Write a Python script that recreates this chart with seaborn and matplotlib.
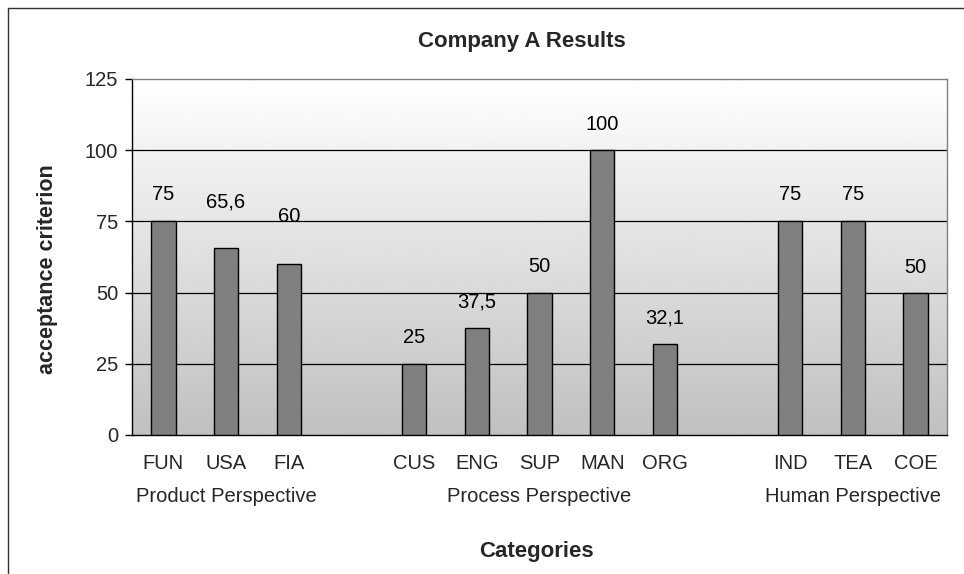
import numpy as np
import pandas as pd
import seaborn as sns
import matplotlib.pyplot as plt
from matplotlib.patches import Rectangle

# chart data
categories = ["FUN", "USA", "FIA", "CUS", "ENG", "SUP", "MAN", "ORG", "IND", "TEA", "COE"]
values = [75, 65.6, 60, 25, 37.5, 50, 100, 32.1, 75, 75, 50]
slot_order = ["FUN", "USA", "FIA", " ", "CUS", "ENG", "SUP", "MAN", "ORG", "  ", "IND", "TEA", "COE"]
groups = ["Product Perspective", "Process Perspective", "Human Perspective"]
group_slot = [1, 6, 11]
y_ticks = [0, 25, 50, 75, 100, 125]

# label lift above the bar top (pixels); two labels were moved up in the original
label_lift = [27, 46, 48, 26, 26, 26, 26, 26, 27, 27, 25]

sns.set_theme(style="white")
plt.rcParams['font.family'] = ['Liberation Sans', 'DejaVu Sans']

df = pd.DataFrame({"cat": categories, "val": values})

fig = plt.figure(figsize=(9.64, 5.74), dpi=100)
ax = fig.add_axes([132/964, 1 - 435/574, (947-132)/964, (435-79)/574])

# gradient background of plot area
grad = np.linspace(1.0, 0.753, 256).reshape(-1, 1)
ax.imshow(grad, cmap="gray", vmin=0, vmax=1, aspect="auto",
          extent=(-0.5, 12.5, 0, 125), origin="upper", zorder=0)

sns.barplot(data=df, x="cat", y="val", order=slot_order, color="#808080",
            saturation=1, width=0.39, edgecolor="black", linewidth=1,
            ax=ax, zorder=3)

for c, v, lift in zip(categories, values, label_lift):
    i = slot_order.index(c)
    txt = f"{v:g}".replace(".", ",")
    ax.annotate(txt, (i, v), xytext=(0, lift * 0.72), textcoords="offset points",
                ha="center", va="center", fontsize=14.5, color="black")

ax.set_xlim(-0.5, 12.5)
ax.set_ylim(0, 125)
ax.set_yticks(y_ticks)
ax.set_yticklabels([str(t) for t in y_ticks], fontsize=14.5)
for t in y_ticks[1:-1]:
    ax.axhline(t, color="black", lw=0.9, zorder=1)

# tick marks between categories, labels at centers
ax.set_xticks(np.arange(-0.5, 13, 1))
ax.set_xticklabels([])
ax.set_xticks(np.arange(13), minor=True)
ax.set_xticklabels(slot_order, minor=True, fontsize=14.5)
ax.tick_params(axis="x", which="major", direction="out", length=5, color="black", width=1)
ax.tick_params(axis="x", which="minor", length=0, pad=14)
ax.tick_params(axis="y", direction="out", length=5, color="black", width=1, pad=5, left=True)
ax.set_xlabel("")
ax.set_ylabel("")

for s in ["top", "right"]:
    ax.spines[s].set_color("#808080")
    ax.spines[s].set_linewidth(1)
for s in ["left", "bottom"]:
    ax.spines[s].set_color("black")
    ax.spines[s].set_linewidth(1)

for g, p in zip(groups, group_slot):
    ax.text(p, -(497 - 435) / 356, g, transform=ax.get_xaxis_transform(),
            ha="center", va="center", fontsize=14.5)

fig.text(522/964, 1 - 42/574, "Company A Results", ha="center", va="center",
         fontsize=16, fontweight="bold")
fig.text(536/964, 1 - 551/574, "Categories", ha="center", va="center",
         fontsize=16, fontweight="bold")
fig.text(48/964, 1 - 269/574, "acceptance criterion", ha="center", va="center",
         rotation=90, fontsize=15.5, fontweight="bold")

# outer chart border
fig.patches.append(Rectangle((8/964, -0.1), 1.2, 1 - 8/574 + 0.1,
                             transform=fig.transFigure, fill=False,
                             edgecolor="#303030", lw=1))

fig.savefig("out.png", dpi=100)
